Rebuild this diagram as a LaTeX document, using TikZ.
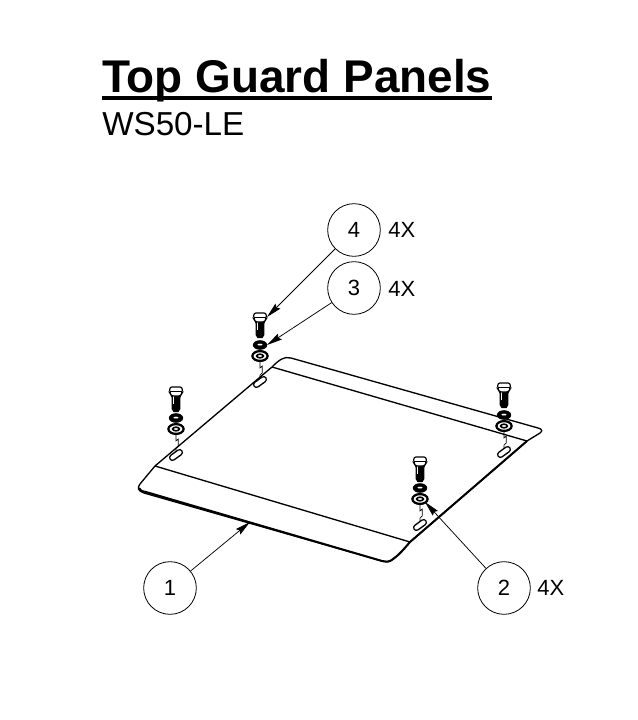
\documentclass[tikz,border=0pt]{standalone}
\usepackage{fontspec}
\setmainfont{Liberation Sans}
\usetikzlibrary{arrows.meta}
\tikzset{
  px/.style={x=0.75pt,y=-0.75pt},
  callout/.style={draw,circle,line width=0.6pt,minimum size=39.5pt,inner sep=0pt,text height=11.8pt,text depth=0pt,font=\fontsize{16.5}{18}\selectfont},
  qty/.style={inner sep=0pt,font=\fontsize{16.5}{18}\selectfont},
  leader/.style={line width=0.55pt,-{Stealth[length=11.5pt,width=5.2pt,inset=1.5pt]}},
  edge/.style={line width=1pt,line join=round},
  heavyedge/.style={line width=1.5pt,line join=round},
  thin part/.style={line width=0.45pt},
  part/.style={line width=0.85pt}
}
\newcommand{\hardware}[4]{% x, head y, washer y, slot y
  \begin{scope}[shift={(#1,0)}]
    % bolt shank
    \fill (-4.3,#2+3) -- (4.3,#2+3) -- (4.3,#2+17) -- (2.6,#2+20) -- (-2.6,#2+20) -- (-4.3,#2+17) -- cycle;
    \fill[white] (-3.4,#2+4) rectangle (-2.4,#2+12);
    % bolt head
    \draw[part,fill=white,rounded corners=1.6pt] (-6.2,#2-5) -- (6.2,#2-5) -- (6.2,#2+1) -- (4.4,#2+4) -- (-4.4,#2+4) -- (-6.2,#2+1) -- cycle;
    \draw[line width=0.4pt] (-6,#2-1) -- (6,#2-1);
    % lock washer
    \fill (0,#3-11) ellipse (7.2 and 4.8);
    \fill[white] (0,#3-11.4) ellipse (2.6 and 0.9);
    % flat washer
    \draw[line width=1.7pt,fill=white] (0,#3) ellipse (7.6 and 4.9);
    \draw[line width=1.2pt] (0,#3) ellipse (3.4 and 1.8);
    % jogged centre line
    \draw[thin part] (0,#3+5) -- (0,#3+12) -- (2.2,#3+10) -- (2.2,#3+17) -- (0,#3+19) -- (0,#4-2);
    % slot
    \draw[line width=5.2pt,line cap=round] (-3.6,#4+2.6) -- (3.6,#4-2.6);
    \draw[white,line width=3pt,line cap=round] (-3.6,#4+2.6) -- (3.6,#4-2.6);
  \end{scope}
}
\begin{document}
\begin{tikzpicture}[px]
\useasboundingbox (0,0) rectangle (638,720);
\fill[white] (0,0) rectangle (638,720);

% title
\node[anchor=base west,inner sep=0pt,font=\fontsize{34.4}{36}\selectfont\bfseries] (title) at (102,93) {Top Guard Panels};
\draw[line width=2.6pt] (title.base west)++(0,5) -- ++(390,0);
\node[anchor=base west,inner sep=0pt,font=\fontsize{24.9}{27}\selectfont] (sub) at (102,136) {WS50-LE};

% panel outline
\draw[edge,fill=white]
  (155,466) -- (272,367) .. controls (279,360) and (284,356) .. (291,358)
  -- (538,428) .. controls (542,429) and (543,431) .. (540,433)
  -- (527,441) -- (410,542) .. controls (404,549) and (398,556) .. (392,560) .. controls (389,562) and (386,562) .. (382,561)
  -- (144,493) .. controls (138,491) and (137,488) .. (140,484) -- cycle;
% thick front edge
\draw[heavyedge] (139,488) .. controls (140,491) and (142,491) .. (146,492)
  -- (382,561) .. controls (387,562) and (390,562) .. (393,559) .. controls (399,555) and (404,549) .. (410,542)
  -- (527,441);
% creases
\draw[edge] (155,466) -- (410,542);
\draw[edge] (272,367) -- (527,441);

% hardware
\hardware{176}{392}{429}{455}
\hardware{260}{318}{356}{382}
\hardware{504}{388}{426}{452}
\hardware{420}{462}{499}{525}

% callouts
\node[callout] (c4) at (354,230) {4};
\node[callout] (c3) at (354,288) {3};
\node[callout] (c1) at (170,588) {1};
\node[callout] (c2) at (504,588) {2};
\node[qty,anchor=west] (q4) at (388,230) {4X};
\node[qty,anchor=west] (q3) at (388,289) {4X};
\node[qty,anchor=west] (q2) at (537,588) {4X};

\coordinate (t4) at (267,317);
\coordinate (t3) at (267,345);
\coordinate (t1) at (250,522);
\coordinate (t2) at (425,502);
\draw[leader] (c4) -- (t4);
\draw[leader] (c3) -- (t3);
\draw[leader] (c1) -- (t1);
\draw[leader] (c2) -- (t2);
\end{tikzpicture}
\end{document}
